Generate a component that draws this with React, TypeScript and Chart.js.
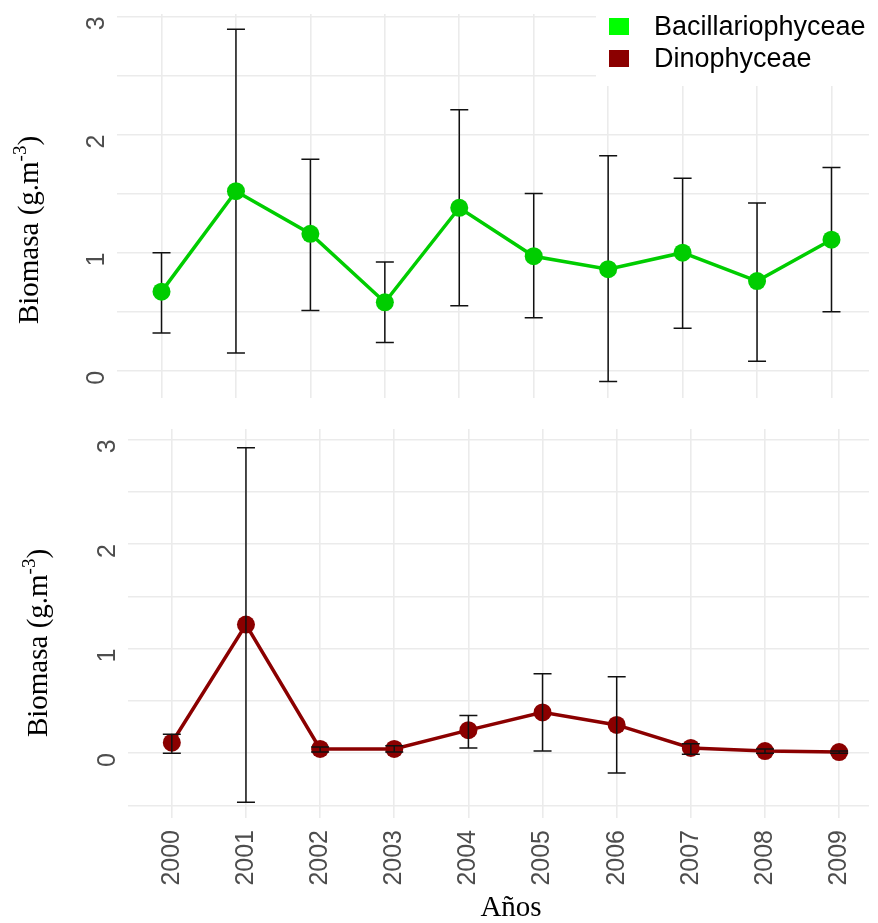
import React, { useEffect, useRef } from "react";
import { Chart, registerables } from "chart.js";

Chart.register(...registerables);

const years = [2000, 2001, 2002, 2003, 2004, 2005, 2006, 2007, 2008, 2009];
const bacMean = [0.67, 1.52, 1.16, 0.58, 1.38, 0.97, 0.86, 1.0, 0.76, 1.11];
const bacLow = [0.32, 0.15, 0.51, 0.24, 0.55, 0.45, -0.09, 0.36, 0.08, 0.5];
const bacHigh = [1.0, 2.89, 1.79, 0.92, 2.21, 1.5, 1.82, 1.63, 1.42, 1.72];
const dinoMean = [0.1, 1.23, 0.04, 0.04, 0.22, 0.39, 0.27, 0.05, 0.02, 0.01];
const dinoLow = [0.0, -0.47, 0.01, 0.01, 0.05, 0.02, -0.19, -0.01, 0.0, 0.0];
const dinoHigh = [0.18, 2.92, 0.06, 0.07, 0.36, 0.76, 0.73, 0.09, 0.04, 0.02];

const seriesNames = ["Bacillariophyceae", "Dinophyceae"];
const legendColors = ["#00FF00", "#8B0000"];
const lineColors = ["#00CD00", "#8B0000"];
const yTitleParts = ["Biomasa (g.m", "-3", ")"];
const xTitle = "Años";

const SANS = '"Liberation Sans", Arial, sans-serif';
const SERIF = '"Liberation Serif", "Times New Roman", serif';
const GRID = "#EBEBEB";
const TICK = "#4D4D4D";

function errorBars(id: string, lows: number[], highs: number[], after: boolean) {
  const draw = (chart: any) => {
    const { ctx, scales } = chart;
    const x = scales.x;
    const y = scales.y;
    ctx.save();
    ctx.strokeStyle = "#111111";
    ctx.lineWidth = 1.5;
    years.forEach((yr, i) => {
      const px = x.getPixelForValue(yr);
      const top = y.getPixelForValue(highs[i]);
      const bot = y.getPixelForValue(lows[i]);
      ctx.beginPath();
      ctx.moveTo(px, top);
      ctx.lineTo(px, bot);
      ctx.moveTo(px - 9, top);
      ctx.lineTo(px + 9, top);
      ctx.moveTo(px - 9, bot);
      ctx.lineTo(px + 9, bot);
      ctx.stroke();
    });
    ctx.restore();
  };
  return after ? { id, afterDatasetsDraw: draw } : { id, beforeDatasetsDraw: draw };
}

function yTitle(id: string, baseX: number, centerY: number) {
  return {
    id,
    afterDraw(chart: any) {
      const ctx = chart.ctx;
      ctx.save();
      ctx.translate(baseX, centerY);
      ctx.rotate(-Math.PI / 2);
      ctx.fillStyle = "#000000";
      ctx.textBaseline = "alphabetic";
      ctx.textAlign = "left";
      const main = `29px ${SERIF}`;
      const sup = `19px ${SERIF}`;
      ctx.font = main;
      const w1 = ctx.measureText(yTitleParts[0]).width;
      const w3 = ctx.measureText(yTitleParts[2]).width;
      ctx.font = sup;
      const w2 = ctx.measureText(yTitleParts[1]).width;
      const sx = -(w1 + w2 + w3) / 2;
      ctx.font = main;
      ctx.fillText(yTitleParts[0], sx, 0);
      ctx.font = sup;
      ctx.fillText(yTitleParts[1], sx + w1, -12);
      ctx.font = main;
      ctx.fillText(yTitleParts[2], sx + w1 + w2, 0);
      ctx.restore();
    },
  };
}

const legendPlugin = {
  id: "legendBox",
  afterDraw(chart: any) {
    const ctx = chart.ctx;
    ctx.save();
    ctx.fillStyle = "#FFFFFF";
    ctx.fillRect(596, 0, 282, 86);
    const rows = [27, 59];
    seriesNames.forEach((name, i) => {
      ctx.fillStyle = legendColors[i];
      ctx.fillRect(609, rows[i] - 9, 20, 17);
      ctx.fillStyle = "#000000";
      ctx.font = `27px ${SANS}`;
      ctx.textBaseline = "middle";
      ctx.textAlign = "left";
      ctx.fillText(name, 654, rows[i] + 1);
    });
    ctx.restore();
  },
};

const xTitlePlugin = {
  id: "xTitle",
  afterDraw(chart: any) {
    const ctx = chart.ctx;
    ctx.save();
    ctx.fillStyle = "#000000";
    ctx.font = `29px ${SERIF}`;
    ctx.textAlign = "center";
    ctx.textBaseline = "alphabetic";
    ctx.fillText(xTitle, 511, 506);
    ctx.restore();
  },
};

function makeConfig(
  idx: number,
  means: number[],
  xMin: number,
  xMax: number,
  yMin: number,
  yMax: number,
  showX: boolean,
  yWidth: number,
  xHeight: number,
  padding: any,
  plugins: any[]
): any {
  return {
    type: "line",
    data: {
      datasets: [
        {
          label: seriesNames[idx],
          data: years.map((yr, i) => ({ x: yr, y: means[i] })),
          borderColor: lineColors[idx],
          backgroundColor: lineColors[idx],
          pointBackgroundColor: lineColors[idx],
          pointBorderColor: lineColors[idx],
          pointBorderWidth: 0,
          pointRadius: 9,
          borderWidth: 3.5,
          tension: 0,
        },
      ],
    },
    options: {
      responsive: false,
      maintainAspectRatio: false,
      animation: false,
      events: [],
      layout: { padding },
      plugins: { legend: { display: false }, tooltip: { enabled: false } },
      scales: {
        x: {
          type: "linear",
          min: xMin,
          max: xMax,
          border: { display: false },
          grid: { color: GRID, lineWidth: 1.6, drawTicks: false },
          ticks: {
            display: showX,
            stepSize: 1,
            includeBounds: false,
            minRotation: 90,
            maxRotation: 90,
            padding: 12,
            color: TICK,
            font: { family: SANS, size: 25 },
            callback: (v: any) => String(v),
          },
          afterFit: (s: any) => {
            s.height = xHeight;
            s.paddingLeft = 0;
            s.paddingRight = 0;
            s.paddingTop = 0;
            s.paddingBottom = 0;
          },
        },
        y: {
          type: "linear",
          min: yMin,
          max: yMax,
          border: { display: false },
          grid: { color: GRID, lineWidth: 1.6, drawTicks: false },
          ticks: {
            stepSize: 0.5,
            includeBounds: false,
            minRotation: 90,
            maxRotation: 90,
            padding: 20,
            color: TICK,
            font: { family: SANS, size: 25 },
            callback: (v: any) => (Number.isInteger(v) ? String(v) : ""),
          },
          afterFit: (s: any) => {
            s.width = yWidth;
            s.paddingLeft = 0;
            s.paddingRight = 0;
            s.paddingTop = 0;
            s.paddingBottom = 0;
          },
        },
      },
    },
    plugins,
  };
}

export default function App() {
  const topRef = useRef<HTMLCanvasElement>(null);
  const botRef = useRef<HTMLCanvasElement>(null);

  useEffect(() => {
    const top = new Chart(
      topRef.current as HTMLCanvasElement,
      makeConfig(0, bacMean, 1999.402, 2009.504, -0.23, 3.02, false, 117, 0,
        { left: 0, right: 9, top: 14, bottom: 12 },
        [errorBars("errTop", bacLow, bacHigh, false), yTitle("yTitleTop", 37.5, 230), legendPlugin])
    );
    const bot = new Chart(
      botRef.current as HTMLCanvasElement,
      makeConfig(1, dinoMean, 1999.409, 2009.403, -0.62, 3.1, true, 128, 105,
        { left: 0, right: 6, top: 19, bottom: 0 },
        [errorBars("errBot", dinoLow, dinoHigh, true), yTitle("yTitleBot", 47, 233), xTitlePlugin])
    );
    return () => {
      top.destroy();
      bot.destroy();
    };
  }, []);

  return (
    <div style={{ position: "absolute", left: 0, top: 0, width: 878, height: 923, background: "#FFFFFF" }}>
      <canvas
        ref={topRef}
        width={878}
        height={410}
        style={{ position: "absolute", left: 0, top: 0, width: 878, height: 410, display: "block" }}
      />
      <canvas
        ref={botRef}
        width={878}
        height={513}
        style={{ position: "absolute", left: 0, top: 410, width: 878, height: 513, display: "block" }}
      />
    </div>
  );
}
